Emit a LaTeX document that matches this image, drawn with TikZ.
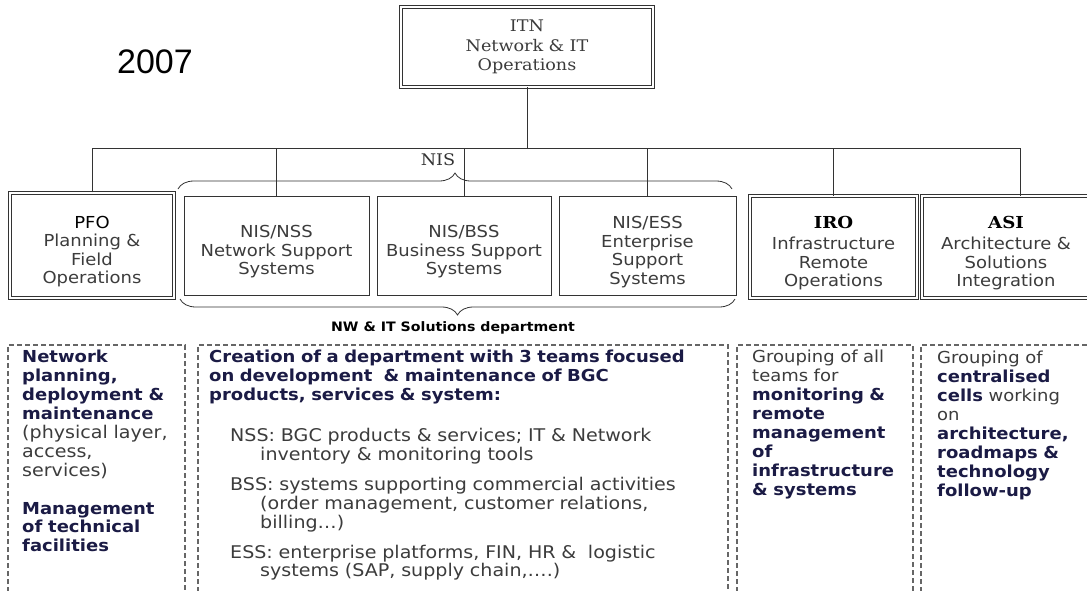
\documentclass[tikz,border=0pt]{standalone}
\usepackage{fontspec}
\setmainfont[FakeStretch=1.09]{DejaVu Sans}
\newfontfamily\headserif[FakeStretch=1.1]{DejaVu Serif}
\newfontfamily\yearfont{Liberation Sans}
\usetikzlibrary{decorations.pathreplacing}
\definecolor{linegray}{HTML}{333333}
\definecolor{txtgray}{HTML}{3C3C3C}
\definecolor{navy}{HTML}{1B1B45}
\definecolor{dashgray}{HTML}{666666}
\tikzset{
  orgline/.style={draw=linegray, line width=0.8pt},
  teambox/.style={draw=linegray, line width=0.9pt, align=center, inner xsep=2pt,
    text=txtgray, font=\fontsize{16.5}{18.5}\selectfont},
  lowtext/.style={execute at begin node={\rule{0pt}{24pt}}},
  dblbox/.style={teambox, double, double distance=1.8pt, line width=0.7pt},
  pfobox/.style={teambox, double, double distance=1.6pt, line width=1.4pt},
  dashbox/.style={draw=dashgray, line width=1.2pt, dash pattern=on 5pt off 3pt},
  notes/.style={anchor=north west, inner sep=0pt, align=left, text=txtgray,
    font=\fontsize{16.5}{18.9}\selectfont},
  bignotes/.style={notes, font=\fontsize{17.5}{18.9}\selectfont},
  brace/.style={draw=linegray, line width=0.8pt, decorate,
    decoration={brace, amplitude=16pt}}
}
\newcommand{\hl}[1]{{\fontsize{16.5}{18.9}\selectfont\color{navy}\bfseries #1}}
\begin{document}
\begin{tikzpicture}[x=1pt, y=-1pt]
  \useasboundingbox[fill=white] (0,0) rectangle (1087,590);
  \node[font=\yearfont\fontsize{34}{34}\selectfont] (year) at (155,62) {2007};

  % top of the chart
  \node[dblbox, font=\headserif\fontsize{16}{19.5}\selectfont, text width=248pt,
    minimum height=80pt] (itn) at (527,47) {ITN\\Network \& IT\\Operations};

  % teams
  \node[pfobox, lowtext, text width=160pt, minimum height=105pt] (pfo) at (92,245.5)
    {\textcolor{black}{PFO}\\Planning \&\\Field\\Operations};
  \node[teambox, lowtext, text width=181pt, minimum height=99pt] (nss) at (276.5,246)
    {NIS/NSS\\Network Support\\Systems};
  \node[teambox, lowtext, text width=170pt, minimum height=99pt] (bss) at (464,246)
    {NIS/BSS\\Business Support\\Systems};
  \node[teambox, lowtext, text width=173pt, minimum height=99pt] (ess) at (647.5,246)
    {NIS/ESS\\Enterprise\\Support\\Systems};
  \node[dblbox, lowtext, text width=163pt, minimum height=102pt] (iro) at (833.5,247)
    {\textcolor{black}{\headserif\bfseries IRO}\\[3pt]Infrastructure\\Remote\\Operations};
  \node[dblbox, lowtext, text width=164pt, minimum height=102pt] (asi) at (1006,247)
    {\textcolor{black}{\headserif\bfseries ASI}\\[3pt]Architecture \&\\Solutions\\Integration};

  \coordinate (bus) at (527,148);
  \draw[orgline] (itn.south) -- (itn.south |- bus);
  \draw[orgline] (pfo.north |- bus) -- ([xshift=14pt]asi.north |- bus);
  \foreach \t in {pfo,nss,bss,ess,iro}
    \draw[orgline] (\t.north) -- (\t.north |- bus);
  \draw[orgline] ([xshift=14pt]asi.north) -- ([xshift=14pt]asi.north |- bus);

  % NIS grouping
  \coordinate (nisL) at (178,189); \coordinate (nisR) at (732,189);
  \draw[brace] (nisL) -- (nisR);
  \node[font=\headserif\fontsize{16}{16}\selectfont, text=linegray] (nis) at (438,160) {NIS};
  \coordinate (depL) at (180,299); \coordinate (depR) at (735,299);
  \draw[brace] (depR) -- (depL);
  \node[font=\fontsize{13}{13}\selectfont\bfseries, text=black] (dept) at (453,328)
    {NW \& IT Solutions department};

  % missions below each team
  \draw[dashbox] (8,592) |- (185,345) -- (185,592);
  \draw[dashbox] (198,592) |- (728,345) -- (728,592);
  \draw[dashbox] (737,592) |- (913,345) -- (913,592);
  \draw[dashbox] (921,592) |- (1092,345);

  \node[bignotes, text width=162pt] (pfonote) at (22,350)
    {\hl{Network\\planning,\\deployment \&\\maintenance}\\(physical layer,\\access,\\services)\\[19pt]
     \hl{Management\\of technical\\facilities}};
  \node[notes, text width=515pt] (nisnote) at (209,350)
    {\hl{Creation of a department with 3 teams focused\\on development~ \& maintenance of BGC\\products, services \& system:}};
  \node[bignotes, text width=495pt] (nislist) at (230,428)
    {NSS: BGC products \& services; IT \& Network\\\hspace*{30pt}inventory \& monitoring tools\\[11pt]
     BSS: systems supporting commercial activities\\\hspace*{30pt}(order management, customer relations,\\\hspace*{30pt}billing\dots)\\[11pt]
     ESS: enterprise platforms, FIN, HR \&~ logistic\\\hspace*{30pt}systems (SAP, supply chain,\dots.)};
  \node[notes, text width=170pt] (ironote) at (752,350)
    {Grouping of all\\teams for\\\hl{monitoring \&\\remote\\management\\of\\infrastructure\\\& systems}};
  \node[notes, text width=150pt] (asinote) at (937,351)
    {Grouping of\\\hl{centralised\\cells} working\\on\\\hl{architecture,\\roadmaps \&\\technology\\follow-up}};
\end{tikzpicture}
\end{document}
